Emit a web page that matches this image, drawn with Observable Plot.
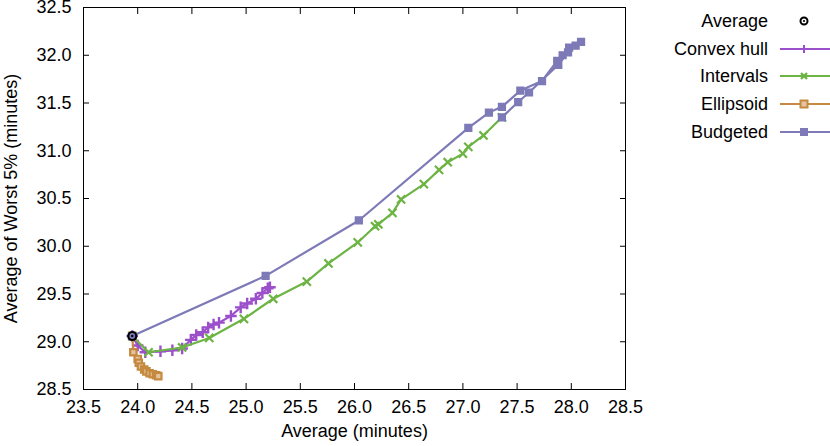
<!DOCTYPE html>
<html>
<head>
<meta charset="utf-8">
<script src="https://cdn.jsdelivr.net/npm/d3@7"></script>
<script src="https://cdn.jsdelivr.net/npm/@observablehq/plot@0.6"></script>
<style>
  body { margin: 0; background: #fff; }
  #wrap { position: relative; width: 830px; height: 446px; font-family: "Liberation Sans", Arial, sans-serif; }
  #legend { position: absolute; left: 0; top: 0; }
</style>
</head>
<body>
<div id="wrap"></div>
<script>
// ---- data ----
const avgX = [23.95];
const avgY = [29.06];

const hullX = [23.95, 24.00, 24.07, 24.21, 24.32, 24.41, 24.49, 24.54, 24.60, 24.65, 24.70, 24.75, 24.86, 24.95, 25.01, 25.09, 25.15, 25.20, 25.22];
const hullY = [29.06, 28.96, 28.89, 28.90, 28.91, 28.93, 29.02, 29.07, 29.10, 29.15, 29.18, 29.20, 29.27, 29.36, 29.40, 29.45, 29.51, 29.56, 29.57];

const intX = [23.95, 24.10, 24.41, 24.66, 24.98, 25.25, 25.56, 25.76, 26.03, 26.19, 26.22, 26.35, 26.43, 26.64, 26.78, 26.86, 27.00, 27.05, 27.19, 27.36];
const intY = [29.06, 28.89, 28.94, 29.04, 29.24, 29.45, 29.63, 29.82, 30.04, 30.21, 30.23, 30.35, 30.49, 30.65, 30.80, 30.88, 30.97, 31.04, 31.16, 31.35];

const ellX = [23.95, 23.96, 24.00, 24.01, 24.03, 24.06, 24.08, 24.11, 24.14, 24.17, 24.19];
const ellY = [29.06, 28.89, 28.82, 28.78, 28.74, 28.71, 28.69, 28.67, 28.66, 28.65, 28.64];

const budX = [23.95, 25.18, 26.04, 27.05, 27.24, 27.36, 27.53, 27.73, 27.87, 27.92, 27.98, 28.04, 28.09, 27.97, 27.88, 27.61, 27.51, 27.36];
const budY = [29.06, 29.69, 30.27, 31.24, 31.40, 31.46, 31.63, 31.73, 31.94, 32.00, 32.08, 32.10, 32.14, 32.03, 31.90, 31.61, 31.51, 31.35];

const xTicks = [23.5, 24.0, 24.5, 25.0, 25.5, 26.0, 26.5, 27.0, 27.5, 28.0, 28.5];
const yTicks = [28.5, 29.0, 29.5, 30.0, 30.5, 31.0, 31.5, 32.0, 32.5];

const seriesNames = ["Average", "Convex hull", "Intervals", "Ellipsoid", "Budgeted"];
const colors = { "Convex hull": "#9c4fcb", "Intervals": "#6db445", "Ellipsoid": "#c5893f", "Budgeted": "#7d7ab7" };

const toRows = (xs, ys) => xs.map((x, i) => ({ x, y: ys[i] }));
const hull = toRows(hullX, hullY);
const intv = toRows(intX, intY);
const ell = toRows(ellX, ellY);
const bud = toRows(budX, budY);
const avg = toRows(avgX, avgY);

const fmt = d3.format(".1f");

const chart = Plot.plot({
  width: 830,
  height: 446,
  marginLeft: 83,
  marginRight: 205,
  marginTop: 7,
  marginBottom: 57,
  style: { fontFamily: "Liberation Sans, Arial, sans-serif", fontSize: "18px", color: "#000", background: "#fff" },
  x: { domain: [23.5, 28.5] },
  y: { domain: [28.5, 32.5] },
  marks: [
    Plot.frame({ stroke: "#000", strokeWidth: 1 }),
    Plot.axisX({ ticks: xTicks, tickFormat: fmt, tickSize: 0, tickPadding: 11, label: null, anchor: "bottom" }),
    Plot.axisX({ ticks: xTicks, tickFormat: () => "", tickSize: -6, label: null, anchor: "bottom" }),
    Plot.axisX({ ticks: xTicks, tickFormat: () => "", tickSize: -6, label: null, anchor: "top" }),
    Plot.axisY({ ticks: yTicks, tickFormat: fmt, tickSize: 0, tickPadding: 12, label: null, anchor: "left" }),
    Plot.axisY({ ticks: yTicks, tickFormat: () => "", tickSize: -6, label: null, anchor: "left" }),
    Plot.axisY({ ticks: yTicks, tickFormat: () => "", tickSize: -6, label: null, anchor: "right" }),
    Plot.text(["Average (minutes)"], { frameAnchor: "bottom", dy: 47, fontSize: 18, fill: "#000" }),
    Plot.text(["Average of Worst 5% (minutes)"], { frameAnchor: "left", textAnchor: "middle", dx: -72, rotate: -90, fontSize: 18, fill: "#000" }),

    Plot.line(hull, { x: "x", y: "y", stroke: colors["Convex hull"], strokeWidth: 2.2 }),
    Plot.dot(hull, { x: "x", y: "y", symbol: "plus", r: 3.8, stroke: colors["Convex hull"], strokeWidth: 2.4 }),

    Plot.line(intv, { x: "x", y: "y", stroke: colors["Intervals"], strokeWidth: 2.2 }),
    Plot.dot(intv, { x: "x", y: "y", symbol: "times", r: 3.8, stroke: colors["Intervals"], strokeWidth: 2.2 }),

    Plot.line(ell, { x: "x", y: "y", stroke: colors["Ellipsoid"], strokeWidth: 2.2 }),
    Plot.dot(ell, { x: "x", y: "y", symbol: "square", r: 3.6, stroke: colors["Ellipsoid"], fill: "#e2c49f", strokeWidth: 2.2 }),

    Plot.line(bud, { x: "x", y: "y", stroke: colors["Budgeted"], strokeWidth: 2.2 }),
    Plot.dot(bud, { x: "x", y: "y", symbol: "square", r: 3.8, fill: colors["Budgeted"], stroke: colors["Budgeted"], strokeWidth: 1.5 }),

    Plot.dot(avg, { x: "x", y: "y", r: 4, stroke: "#000", fill: "#7d7ab7", strokeWidth: 2.2 }),
    Plot.dot(avg, { x: "x", y: "y", r: 1.2, fill: "#000" })
  ]
});

const wrap = document.getElementById("wrap");
wrap.appendChild(chart);

// ---- legend ----
const leg = d3.select(wrap).append("svg")
  .attr("id", "legend").attr("width", 830).attr("height", 160)
  .style("font-family", "Liberation Sans, Arial, sans-serif").style("font-size", "18px");
const rowY = [21, 49, 76, 104, 132];
seriesNames.forEach((name, i) => {
  const y = rowY[i];
  leg.append("text").attr("x", 768).attr("y", y).attr("dy", "0.35em").attr("text-anchor", "end").attr("fill", "#000").text(name);
  if (name === "Average") {
    leg.append("circle").attr("cx", 804).attr("cy", y).attr("r", 3.5).attr("fill", "none").attr("stroke", "#000").attr("stroke-width", 2);
    leg.append("circle").attr("cx", 804).attr("cy", y).attr("r", 1.1).attr("fill", "#000");
    return;
  }
  const c = colors[name];
  leg.append("line").attr("x1", 780).attr("x2", 830).attr("y1", y).attr("y2", y).attr("stroke", c).attr("stroke-width", 2);
  if (name === "Convex hull") {
    leg.append("path").attr("d", `M800,${y}h8M804,${y - 4}v8`).attr("stroke", c).attr("stroke-width", 2);
  } else if (name === "Intervals") {
    leg.append("path").attr("d", `M801,${y - 3}l6,6M801,${y + 3}l6,-6`).attr("stroke", c).attr("stroke-width", 2.4);
  } else if (name === "Ellipsoid") {
    leg.append("rect").attr("x", 800.5).attr("y", y - 3.5).attr("width", 7).attr("height", 7).attr("fill", "#e2c49f").attr("stroke", c).attr("stroke-width", 2);
  } else {
    leg.append("rect").attr("x", 800).attr("y", y - 4).attr("width", 8).attr("height", 8).attr("fill", c);
  }
});
</script>
</body>
</html>
